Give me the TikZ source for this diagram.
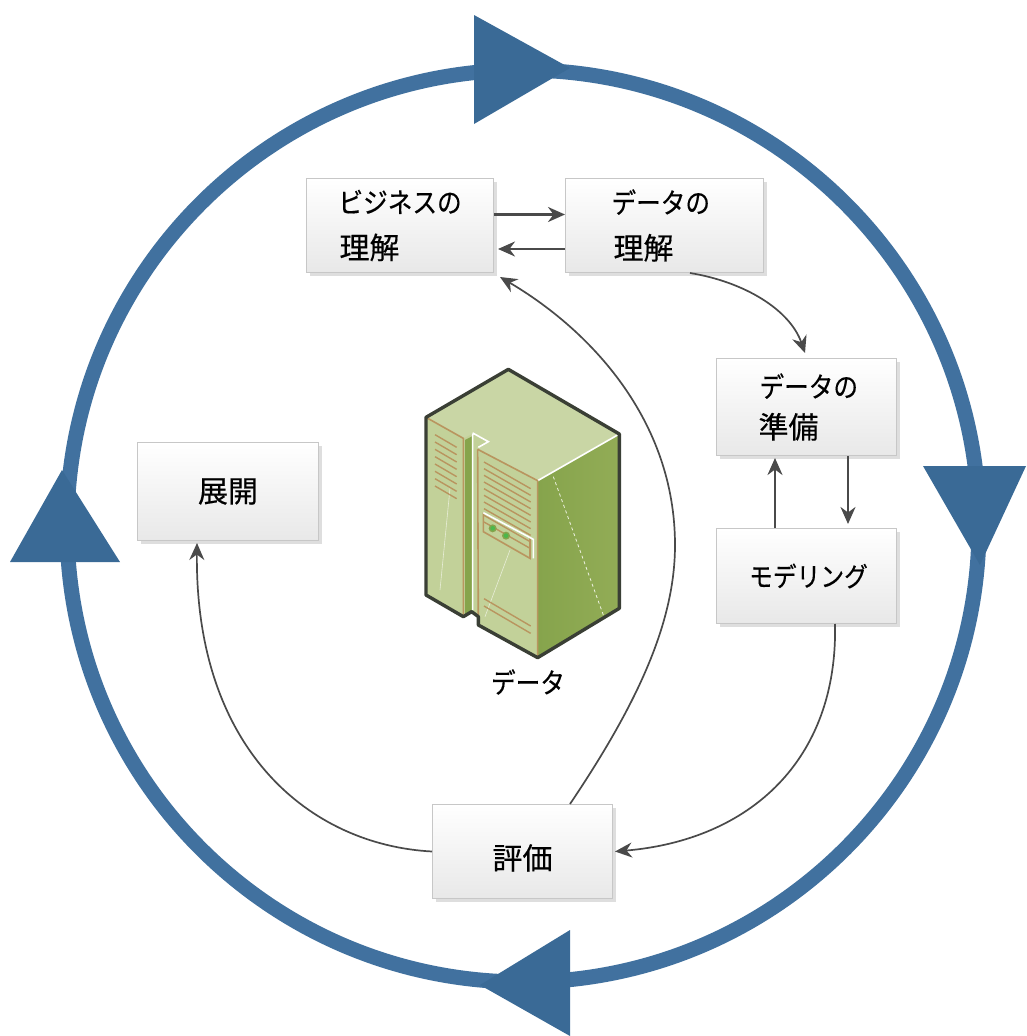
\documentclass[tikz,border=0pt]{standalone}
\usepackage{fontspec}
\setmainfont[FakeBold=0.35]{Noto Sans CJK JP}
\newfontfamily\kanaface[FakeBold=0.35,FakeStretch=0.88]{Noto Sans CJK JP}
\usetikzlibrary{arrows.meta,calc,shadows}
\definecolor{ringblue}{HTML}{41719F}
\definecolor{tipblue}{HTML}{3A6A96}
\definecolor{linkgrey}{HTML}{4A4A4A}
\definecolor{srvdark}{HTML}{3A3F35}
\definecolor{srvbrown}{HTML}{B9955F}
\definecolor{srvfront}{HTML}{C2D199}
\definecolor{srvmid}{HTML}{86A44C}
\definecolor{srvlight}{HTML}{92AC56}
\newcommand{\kj}[1]{{\fontsize{30}{\the\baselineskip}\selectfont #1}}
\tikzset{
  cardbox/.style={draw=black!22,line width=1pt,top color=white,bottom color=black!9,
    general shadow={fill=black!13,shadow xshift=3pt,shadow yshift=-3pt},
    inner xsep=0pt,inner ysep=0pt,anchor=north west,align=left,
    font=\kanaface\fontsize{28}{46}\selectfont},
  link/.style={draw=linkgrey,line width=2.3pt,-{Stealth[length=17pt,width=15pt]}},
  thinlink/.style={draw=linkgrey,line width=1.7pt,-{Stealth[length=17pt,width=15pt]}},
  tip/.style={fill=tipblue,draw=none},
  vent/.style={draw=srvbrown,line width=1.4pt}
}
\begin{document}
\begin{tikzpicture}[x=1pt,y=-1pt]
\useasboundingbox (0,0) rectangle (1026,1036);
% ring
\draw[ringblue,line width=15pt] (523,526) circle[radius=456];
\fill[tip] (474,15) -- (570,68) -- (474,124) -- cycle;
\fill[tip] (923,466) -- (1026,466) -- (980,565) -- cycle;
\fill[tip] (570,930) -- (570,1036) -- (480,985) -- cycle;
\fill[tip] (62,470) -- (120,562) -- (10,562) -- cycle;
% boxes
\node[cardbox,minimum width=187pt,minimum height=94pt,text width=187pt] (biz) at (306,178) {\hspace*{32pt}ビジネスの\\\hspace*{33pt}\rmfamily\kj{理解}};
\node[cardbox,minimum width=198pt,minimum height=94pt,text width=198pt] (dat) at (565,178) {\hspace*{46pt}データの\\\hspace*{48pt}\rmfamily\kj{理解}};
\node[cardbox,minimum width=180pt,minimum height=97pt,text width=180pt,font=\kanaface\fontsize{28}{41}\selectfont] (pre) at (716,358) {\hspace*{43pt}データの\\\hspace*{42pt}\rmfamily\kj{準備}};
\node[cardbox,minimum width=180pt,minimum height=95pt,text width=180pt,align=center,font=\kanaface\fontsize{27}{46}\selectfont] (mod) at (716,528) {\hspace*{4pt}モデリング};
\node[cardbox,minimum width=181pt,minimum height=98pt,text width=181pt,align=center] (dep) at (137,442) {\rmfamily\kj{展開}};
\node[cardbox,minimum width=180pt,minimum height=94pt,text width=180pt,align=center] (eva) at (432,804) {\rule{0pt}{38pt}\rmfamily\kj{評価}};
% connectors
\draw[link] ([yshift=11pt]biz.east) -- ([yshift=11pt]dat.west);
\draw[link] ($(dat.south west)+(0,-24)$) -- ($(biz.south east)+(4,-24)$);
\draw[link] ($(pre.south west)+(132,0)$) -- ($(mod.north west)+(132,-4)$);
\draw[link] ($(mod.north west)+(59,0)$) -- ($(pre.south west)+(59,2)$);
\draw[thinlink] ($(dat.south west)+(125,0)$) .. controls (745,282) and (790,310) .. ($(pre.north west)+(89,-5)$);
\draw[thinlink] ($(eva.north west)+(138,0)$) .. controls (640,700) and (675,620) .. (675,545) .. controls (675,420) and (590,330) .. ($(biz.south east)+(6,4)$);
\draw[thinlink] (eva.west) .. controls (310,845) and (195,750) .. ($(dep.south west)+(60,2)$);
\draw[thinlink] ($(mod.south west)+(119,0)$) .. controls (838,760) and (750,840) .. ($(eva.east)+(2,0)$);
% server
\begin{scope}[shift={(410,360)},scale=1/3]
  \fill[srvfront] (48,172) -- (295,28) -- (628,222) -- (628,745) -- (383,893) -- (205,795) -- (205,770) -- (185,755) -- (160,770) -- (48,705) -- cycle;
  \fill[srvfront!88!white] (48,172) -- (295,28) -- (628,222) -- (383,362) -- (200,262) -- (235,245) -- (190,220) -- (160,235) -- cycle;
  \shade[left color=srvmid,right color=srvlight] (383,362) -- (628,222) -- (628,745) -- (383,893) -- cycle;
  \fill[srvmid] (165,240) -- (188,228) -- (188,752) -- (165,765) -- cycle;
  \draw[white,line width=1.6pt] (383,362) -- (628,222);
  \draw[white,line width=1.6pt] (188,750) -- (188,225) -- (190,220) -- (235,245) -- (205,262);
  \draw[white!70!srvfront,line width=.8pt,dashed] (430,350) -- (580,765);
  \draw[white!60!srvfront,line width=.6pt] (120,385) -- (90,690);
  \draw[white!60!srvfront,line width=.6pt] (300,570) -- (225,770);
  % brown trim
  \draw[srvbrown,line width=1.6pt] (48,172) -- (160,235) -- (160,770);
  \draw[srvbrown,line width=1.6pt] (203,268) -- (205,795);
  \draw[srvbrown,line width=1.6pt] (203,268) -- (383,362) -- (383,893);
  \foreach \i in {0,...,7}
    \draw[vent] (75,{224+\i*22}) -- (140,{262+\i*22});
  \foreach \i in {0,...,9}
    \draw[vent] (222,{306+\i*20}) -- (362,{386+\i*20});
  \draw[vent] (222,716) -- (362,798);
  \draw[vent] (222,738) -- (362,820);
  % panel
  \draw[srvbrown,line width=1.6pt] (220,458) -- (220,515) -- (360,595) -- (360,535);
  \draw[white,line width=1.6pt] (220,458) -- (370,538) -- (370,595);
  \fill[srvmid] (248,505) circle[radius=12];
  \fill[srvmid] (288,527) circle[radius=12];
  \fill[green!60!black!70] (248,505) circle[radius=7];
  \fill[green!60!black!70] (288,527) circle[radius=7];
  % outline
  \draw[srvdark,line width=3.4pt,line join=round] (48,172) -- (295,28) -- (628,222) -- (628,745) -- (383,893) -- (205,795) -- (205,770) -- (185,755) -- (160,770) -- (48,705) -- cycle;
\end{scope}
\node[font=\kanaface\fontsize{28}{34}\selectfont] (lbl) at (528,682) {データ};
\end{tikzpicture}
\end{document}
